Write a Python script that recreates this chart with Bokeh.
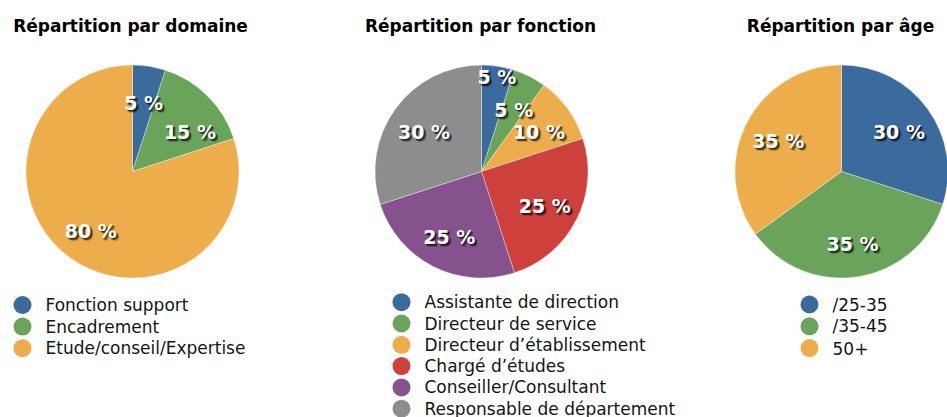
import math
from bokeh.plotting import figure
from bokeh.models import Range1d
from bokeh.core.properties import value
from bokeh.embed import file_html
from bokeh.resources import INLINE

# ---- data ----
titles = ["Répartition par domaine", "Répartition par fonction", "Répartition par âge"]

domaine_labels = ["Fonction support", "Encadrement", "Etude/conseil/Expertise"]
domaine_values = [5, 15, 80]

fonction_labels = ["Assistante de direction", "Directeur de service", "Directeur d’établissement",
                   "Chargé d’études", "Conseiller/Consultant", "Responsable de département"]
fonction_values = [5, 5, 10, 25, 25, 30]

age_labels = ["/25-35", "/35-45", "50+"]
age_values = [30, 35, 35]

# ---- styles ----
BLUE, GREEN, ORANGE = "#3b6a9c", "#6aa35a", "#ecad4a"
RED, PURPLE, GRAY = "#cd403c", "#85528d", "#8c8d8c"
domaine_colors = [BLUE, GREEN, ORANGE]
fonction_colors = [BLUE, GREEN, ORANGE, RED, PURPLE, GRAY]
age_colors = [BLUE, GREEN, ORANGE]

W, H = 947, 417
def PX(x): return x
def PY(y): return H - y

p = figure(width=W, height=H, output_backend="svg", toolbar_location=None,
           x_range=Range1d(0, W), y_range=Range1d(0, H), min_border=0)
p.axis.visible = False
p.grid.visible = False
p.outline_line_color = None
p.background_fill_color = "white"

TITLE_FONT = value("DejaVu Sans")
LEG_FONT = value("DejaVu Sans")

pies = [
    dict(values=domaine_values, labels=domaine_labels, colors=domaine_colors, title=titles[0],
         cx=132, cy=171, title_x=130, leg_x=22, leg_y=304.5, leg_dy=21.6,
         nudge={1: (1.0, 9)}),
    dict(values=fonction_values, labels=fonction_labels, colors=fonction_colors, title=titles[1],
         cx=481, cy=171, title_x=480, leg_x=401, leg_y=301.7, leg_dy=21.3,
         nudge={0: (1.38, 0)}),
    dict(values=age_values, labels=age_labels, colors=age_colors, title=titles[2],
         cx=841, cy=171, title_x=840, leg_x=809, leg_y=304, leg_dy=21.8,
         nudge={}),
]
R = 106.5
LR = 71
LABEL_DROP = 2

for pie in pies:
    vals = pie["values"]
    total = float(sum(vals))
    cx, cy = PX(pie["cx"]), PY(pie["cy"])
    cum = 0.0
    starts, ends, lx, ly, txt = [], [], [], [], []
    for i, v in enumerate(vals):
        a0 = cum / total
        cum += v
        a1 = cum / total
        starts.append(math.pi / 2 - 2 * math.pi * a0)
        ends.append(math.pi / 2 - 2 * math.pi * a1)
        fr, dang = pie["nudge"].get(i, (1.0, 0))
        mid = 2 * math.pi * (a0 + a1) / 2 + math.radians(dang)
        r = LR * fr
        lx.append(cx + r * math.sin(mid))
        ly.append(cy + r * math.cos(mid) - LABEL_DROP)
        txt.append(f"{v} %")
    n = len(vals)
    p.wedge(x=[cx] * n, y=[cy] * n, radius=R, start_angle=starts, end_angle=ends,
            direction="clock", fill_color=pie["colors"], line_color="white", line_width=0.5,
            line_alpha=0.7)
    # soft shadow under labels
    for (dx, dy, al) in [(2, -2, 0.3), (1, -1, 0.3), (3, -3, 0.15), (2, -1, 0.2),
                         (1, -2, 0.2), (3, -2, 0.1), (2, -3, 0.1)]:
        p.text(x=[x + dx for x in lx], y=[y + dy for y in ly], text=txt,
               text_color="black", text_alpha=al, text_font=TITLE_FONT, text_font_style="bold",
               text_font_size="19px", text_align="center", text_baseline="middle")
    p.text(x=lx, y=ly, text=txt, text_color="white", text_font=TITLE_FONT,
           text_font_style="bold", text_font_size="19px", text_align="center",
           text_baseline="middle")
    # title
    p.text(x=[PX(pie["title_x"])], y=[PY(25)], text=[pie["title"]], text_color="black",
           text_font=TITLE_FONT, text_font_style="bold", text_font_size="17px",
           text_align="center", text_baseline="middle")
    # legend
    ys = [PY(pie["leg_y"] + k * pie["leg_dy"]) for k in range(n)]
    p.scatter(x=[PX(pie["leg_x"])] * n, y=ys, size=18, marker="circle",
              fill_color=pie["colors"], line_color=None)
    p.text(x=[PX(pie["leg_x"] + 23)] * n, y=ys, text=pie["labels"], text_color="#141414",
           text_font=LEG_FONT, text_font_size="17px", text_align="left",
           text_baseline="middle")

open("out.html", "w").write(file_html(p, INLINE))
